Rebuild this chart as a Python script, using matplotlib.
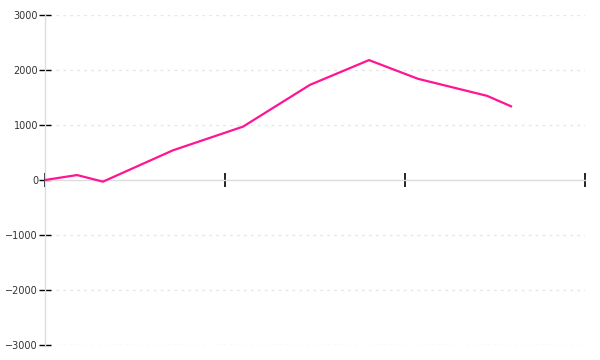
import matplotlib
matplotlib.use("Agg")
import matplotlib.pyplot as plt

# Data
x_pos = [0, 0.178, 0.322, 0.711, 1.1, 1.472, 1.8, 2.072, 2.456, 2.589]
values = [0, 90, -30, 540, 970, 1730, 2180, 1840, 1530, 1340]
y_ticks = [-3000, -2000, -1000, 0, 1000, 2000, 3000]
x_ticks = [0, 1, 2, 3]

fig = plt.figure(figsize=(6, 3.6), dpi=100)
ax = fig.add_axes([45 / 600, 15 / 360, 540 / 600, 330 / 360])

ax.set_xlim(0, 3)
ax.set_ylim(-3000, 3000)

for yv in y_ticks:
    if yv != 0:
        ax.plot([0.02, 3], [yv, yv], color="#e6e6e6", lw=1, dashes=(2, 3), zorder=1)

ax.plot(x_pos, values, color="#ff1493", lw=1.6, zorder=3, solid_joinstyle="miter")

for s in ["top", "right"]:
    ax.spines[s].set_visible(False)
ax.spines["left"].set_color("#dddddd")
ax.spines["left"].set_linewidth(1)
ax.spines["bottom"].set_position(("data", 0))
ax.spines["bottom"].set_color("#dddddd")
ax.spines["bottom"].set_linewidth(1)

ax.set_yticks(y_ticks)
ax.set_yticklabels([str(v).replace("-", "\u2212") for v in y_ticks])
ax.set_xticks(x_ticks)
ax.set_xticklabels([])
ax.tick_params(axis="y", direction="inout", length=8, width=1, color="black",
               labelsize=7, labelcolor="#333333", pad=1)
ax.tick_params(axis="x", direction="inout", length=10, width=1.2, color="black")

fig.savefig("out.png", dpi=100)
